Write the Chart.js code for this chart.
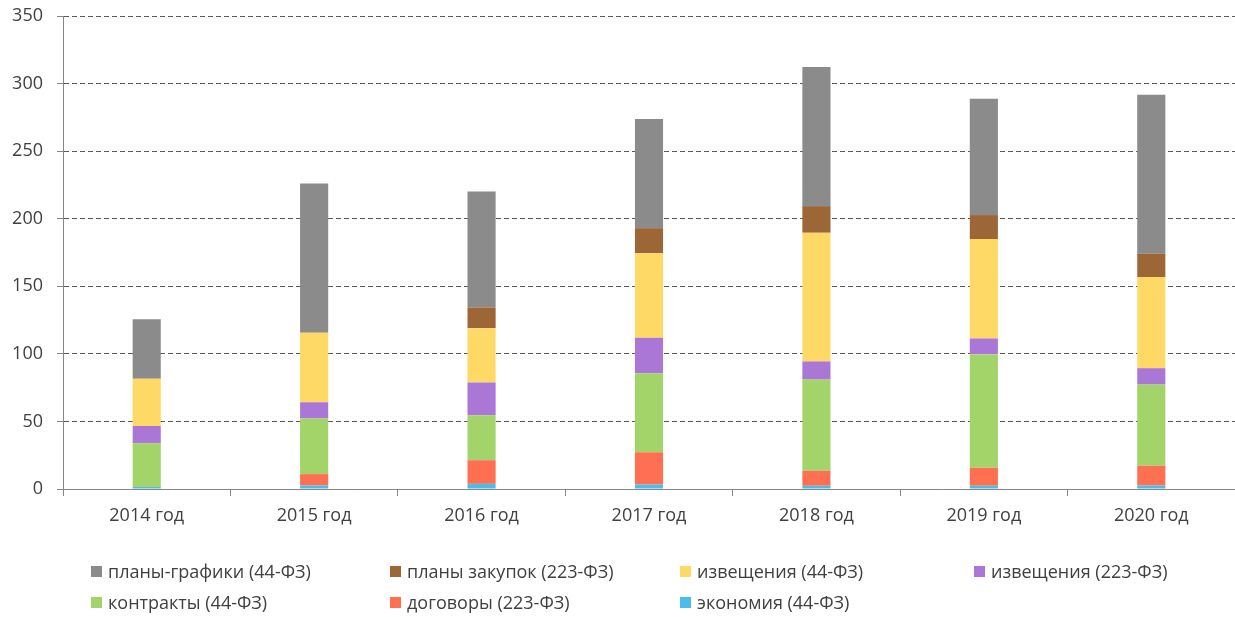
<!DOCTYPE html>
<html lang="ru">
<head>
<meta charset="utf-8">
<script src="https://cdn.jsdelivr.net/npm/chart.js@4/dist/chart.umd.min.js"></script>
<style>
  html, body { margin: 0; padding: 0; background: #fff; }
  #wrap { position: relative; width: 1235px; height: 617px; overflow: hidden; }
  #chart { position: absolute; left: 0; top: 0; }
  #legend {
    position: absolute; left: 91px; top: 560px;
    display: grid; grid-template-columns: 299px 290px 294px 240px;
    row-gap: 9px;
    font-family: "Open Sans", sans-serif; font-size: 18px; color: #404040;
  }
  #legend .item { display: flex; align-items: center; white-space: nowrap; line-height: 22px; }
  #legend .box { width: 11px; height: 11px; margin-right: 6px; flex: none; }
</style>
</head>
<body>
<div id="wrap">
  <canvas id="chart" width="1235" height="617"></canvas>
  <div id="legend"></div>
</div>
<script>
// категории и значения (снизу вверх по стеку)
const categories = ['2014 год', '2015 год', '2016 год', '2017 год', '2018 год', '2019 год', '2020 год'];

const ekonomiya     = [1.5, 2.6, 3.8, 3.3, 2.4, 2.4, 2.6];
const dogovory      = [0, 8.4, 17.5, 23.9, 11.1, 13.3, 14.6];
const kontrakty     = [32.3, 41.2, 33.3, 58.5, 67.5, 83.9, 60.1];
const izvescheniya223 = [12.8, 12.0, 24.2, 26.2, 13.4, 11.8, 12.1];
const izvescheniya44  = [35.0, 51.4, 40.2, 62.6, 95.2, 73.5, 67.4];
const planyZakupok  = [0, 0, 15.3, 18.5, 19.7, 17.8, 17.3];
const planyGrafiki  = [44.0, 110.4, 85.9, 80.7, 102.9, 86.1, 117.7];

const yTicks = [0, 50, 100, 150, 200, 250, 300, 350];

// порядок в легенде
const legendOrder = [6, 5, 4, 3, 2, 1, 0];

const FONT = '"Open Sans", sans-serif';
const TEXT = '#404040';
const AXIS = '#868686';

function ds(label, data, color) {
    return {
        label: label,
        data: data,
        backgroundColor: color,
        borderWidth: 0,
        barPercentage: 0.168,
        categoryPercentage: 1
    };
}

const datasets = [
    ds('экономия (44-ФЗ)', ekonomiya, '#4cbde8'),
    ds('договоры (223-ФЗ)', dogovory, '#ff7052'),
    ds('контракты (44-ФЗ)', kontrakty, '#a2d46a'),
    ds('извещения (223-ФЗ)', izvescheniya223, '#ab77d6'),
    ds('извещения (44-ФЗ)', izvescheniya44, '#ffd966'),
    ds('планы закупок (223-ФЗ)', planyZakupok, '#9c6636'),
    ds('планы-графики (44-ФЗ)', planyGrafiki, '#8b8b8b')
];

const ctx = document.getElementById('chart').getContext('2d');
new Chart(ctx, {
    type: 'bar',
    data: { labels: categories, datasets: datasets },
    options: {
        responsive: false,
        animation: false,
        layout: { padding: { top: 16, right: 0, bottom: 0, left: 0 } },
        plugins: {
            legend: { display: false },
            tooltip: { enabled: false }
        },
        scales: {
            x: {
                stacked: true,
                grid: {
                    display: true,
                    offset: true,
                    drawOnChartArea: false,
                    drawTicks: true,
                    tickLength: 7,
                    color: AXIS
                },
                border: { display: true, color: AXIS, width: 1 },
                ticks: {
                    color: TEXT,
                    font: { family: FONT, size: 18 },
                    padding: 9,
                    maxRotation: 0
                },
                afterFit: function (scale) { scale.height = 128; }
            },
            y: {
                stacked: true,
                min: 0,
                max: 350,
                afterBuildTicks: function (scale) {
                    scale.ticks = yTicks.map(v => ({ value: v }));
                },
                grid: {
                    color: '#595959',
                    drawTicks: true,
                    tickLength: 6,
                    tickColor: AXIS,
                    tickBorderDash: []
                },
                border: { display: true, color: AXIS, width: 1, dash: [5, 3] },
                ticks: {
                    color: TEXT,
                    font: { family: FONT, size: 18 },
                    padding: 14
                },
                afterFit: function (scale) {
                    scale.width = 63;
                    scale.paddingTop = 0;
                    scale.paddingBottom = 0;
                }
            }
        }
    }
});

// легенда
const legendEl = document.getElementById('legend');
legendOrder.forEach(i => {
    const d = datasets[i];
    const item = document.createElement('div');
    item.className = 'item';
    const box = document.createElement('span');
    box.className = 'box';
    box.style.background = d.backgroundColor;
    const txt = document.createElement('span');
    txt.textContent = d.label;
    item.appendChild(box);
    item.appendChild(txt);
    legendEl.appendChild(item);
});
</script>
</body>
</html>
